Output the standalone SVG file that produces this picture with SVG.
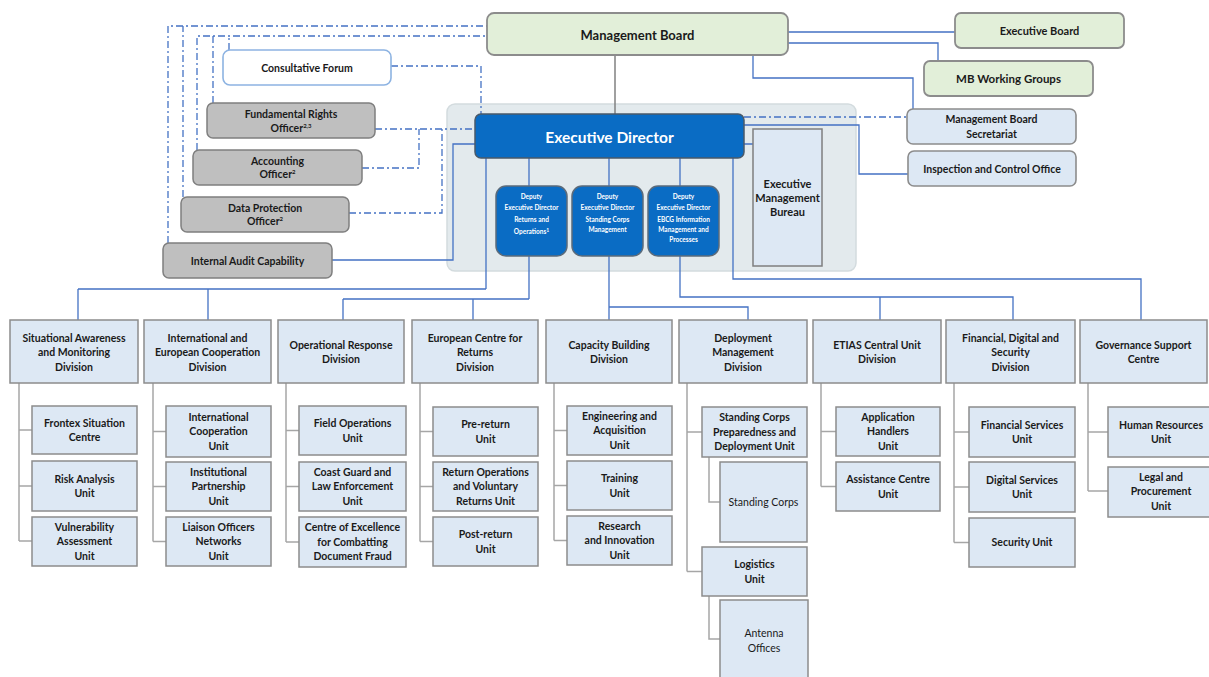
<svg xmlns="http://www.w3.org/2000/svg" width="1209" height="677" viewBox="0 0 1209 677">
<style>
.bl{stroke:#4472c4;stroke-width:1.3;fill:none}
.da{stroke:#4472c4;stroke-width:1.3;fill:none;stroke-dasharray:7 3 2 3}
.gr{stroke:#808080;stroke-width:1.5;fill:none}
.tr{stroke:#a6a6a6;stroke-width:1.5;fill:none}
.unit{fill:#dde8f4;stroke:#8c8c8c;stroke-width:1.5}
.green{fill:#e2efd9;stroke:#8c8c8c;stroke-width:1.8}
.grey{fill:#bfbfbf;stroke:#7f7f7f;stroke-width:1.5}
.lb{fill:#dde8f4;stroke:#8c8c8c;stroke-width:1.6}
.dep{fill:#0a6cc4;stroke:#5b6b7b;stroke-width:1.5}
.t{font-family:Lato,"Liberation Sans",sans-serif;font-weight:700;font-size:10.5px;fill:#1a1a1a;text-anchor:middle}
.w{font-family:Lato,"Liberation Sans",sans-serif;font-weight:700;font-size:6.5px;fill:#ffffff;text-anchor:middle}
.sup{font-size:6px}
</style>
<rect width="1209" height="677" fill="#ffffff"/>
<g id="container"><rect x="447" y="104" width="409" height="167" rx="8" fill="#e3eaed" stroke="#d3dbde" stroke-width="1.5"/></g>
<g id="connectors">
<path class="gr" d="M615 55V114"/>
<path class="bl" d="M788 32H955M788 43H938V61M753 55V78H913V109"/>
<path class="bl" d="M744 125H859V174H908M744 144H753"/>
<path class="da" d="M744 117H907"/>
<path class="bl" d="M332 260H453V144H475"/>
<path class="da" d="M168 243V26H487M183 197V26M197 150V36H487M213 103V36M229 50V36"/>
<path class="da" d="M391 66H481V114M375 129H475M362 168H419V129M349 213H442V129"/>
<path class="bl" d="M529 158V186M609 158V186M680 158V186"/>
<path class="bl" d="M486 158V289M78 289H486M78 289V320M208 289V320"/>
<path class="bl" d="M529 256V299M343 299H529M343 299V320M473 299V320"/>
<path class="bl" d="M609 256V320M609 307H748V320"/>
<path class="bl" d="M680 256V297H1013V320M880 297V320"/>
<path class="bl" d="M733 158V279H1141V320"/>
<path class="tr" d="M19 383V541M19 430H32M19 486H32M19 541H32"/>
<path class="tr" d="M153 383V541.5M153 431.5H166M153 486.5H166M153 541.5H166"/>
<path class="tr" d="M286 383V542M286 430.5H299M286 486.5H299M286 542H299"/>
<path class="tr" d="M420 383V541.5M420 431.5H433M420 486.5H433M420 541.5H433"/>
<path class="tr" d="M554 383V540.5M554 430.5H567M554 485.5H567M554 540.5H567"/>
<path class="tr" d="M687 383V571.5M687 432H702M687 571.5H702M709 457V502H720M709 596V639H720"/>
<path class="tr" d="M821 383V486.5M821 431.5H836M821 486.5H836"/>
<path class="tr" d="M954 383V542.5M954 432H969M954 487H969M954 542.5H969"/>
<path class="tr" d="M1088 383V491M1088 432H1108M1088 491H1108"/>
</g>
<g id="mb"><rect class="green" x="487" y="13" width="301" height="42" rx="7"/><text class="t" x="637.5" y="39.5" style="font-size:13px">Management Board</text></g>
<g id="eb"><rect class="green" x="955" y="13" width="169" height="35" rx="6"/><text class="t" x="1039.5" y="35" style="font-size:11px">Executive Board</text></g>
<g id="mbwg"><rect class="green" x="924" y="61" width="169" height="35" rx="6"/><text class="t" x="1008.5" y="83" style="font-size:11.5px">MB Working Groups</text></g>
<g id="mbs"><rect class="lb" x="907" y="109" width="169" height="35" rx="6"/><text class="t" x="991.5" y="122.5">Management Board</text><text class="t" x="991.5" y="137.5">Secretariat</text></g>
<g id="ico"><rect class="lb" x="908" y="151" width="168" height="35" rx="6"/><text class="t" x="992" y="172.5">Inspection and Control Office</text></g>
<g id="cf"><rect x="223" y="50" width="168" height="35" rx="7" fill="#ffffff" stroke="#8db3e2" stroke-width="1.6"/><text class="t" x="307" y="71.5">Consultative Forum</text></g>
<g id="fro"><rect class="grey" x="207" y="103" width="168" height="35" rx="6"/><text class="t" x="291" y="117.5">Fundamental Rights</text><text class="t" x="291" y="131.5">Officer<tspan class="sup" dy="-4">2,3</tspan></text></g>
<g id="ao"><rect class="grey" x="193" y="150" width="169" height="35" rx="6"/><text class="t" x="277.5" y="164.5">Accounting</text><text class="t" x="277.5" y="178">Officer<tspan class="sup" dy="-4">2</tspan></text></g>
<g id="dpo"><rect class="grey" x="181" y="197" width="168" height="35" rx="6"/><text class="t" x="265" y="211.5">Data Protection</text><text class="t" x="265" y="225">Officer<tspan class="sup" dy="-4">2</tspan></text></g>
<g id="iac"><rect class="grey" x="163" y="243" width="169" height="35" rx="6"/><text class="t" x="247.5" y="264.5">Internal Audit Capability</text></g>
<g id="ed"><rect x="475" y="114" width="269" height="44" rx="6" fill="#0a6cc4" stroke="#4a5a6a" stroke-width="1.5"/><text class="t" x="609.5" y="142.5" style="font-size:15.5px;fill:#ffffff">Executive Director</text></g>
<g id="dep1"><rect class="dep" x="496" y="186" width="71" height="70" rx="10"/><text class="w" x="531.5" y="199.3">Deputy</text><text class="w" x="531.5" y="210.3">Executive Director</text><text class="w" x="531.5" y="222.3">Returns and</text><text class="w" x="531.5" y="234.3">Operations<tspan style="font-size:5px" dy="-2.5">1</tspan></text></g>
<g id="dep2"><rect class="dep" x="572" y="186" width="71" height="70" rx="10"/><text class="w" x="607.5" y="199.3">Deputy</text><text class="w" x="607.5" y="210.3">Executive Director</text><text class="w" x="607.5" y="222.3">Standing Corps</text><text class="w" x="607.5" y="232.3">Management</text></g>
<g id="dep3"><rect class="dep" x="648" y="186" width="71" height="70" rx="10"/><text class="w" x="683.5" y="199.3">Deputy</text><text class="w" x="683.5" y="210.3">Executive Director</text><text class="w" x="683.5" y="222.3">EBCG Information</text><text class="w" x="683.5" y="232.3">Management and</text><text class="w" x="683.5" y="242.3">Processes</text></g>
<g id="emb"><rect x="753" y="129" width="69" height="137" fill="#dde8f4" stroke="#7f7f7f" stroke-width="1.5"/><text class="t" x="787.5" y="188" style="font-size:11px">Executive</text><text class="t" x="787.5" y="202" style="font-size:11px">Management</text><text class="t" x="787.5" y="216" style="font-size:11px">Bureau</text></g>
<g id="div1"><rect class="unit" x="10" y="320" width="128" height="63"/><text class="t" x="74" y="341.5">Situational Awareness</text><text class="t" x="74" y="356">and Monitoring</text><text class="t" x="74" y="370.5">Division</text></g>
<g id="div2"><rect class="unit" x="144" y="320" width="127" height="63"/><text class="t" x="207.5" y="341.5">International and</text><text class="t" x="207.5" y="356">European Cooperation</text><text class="t" x="207.5" y="370.5">Division</text></g>
<g id="div3"><rect class="unit" x="278" y="320" width="126" height="63"/><text class="t" x="341" y="348.5">Operational Response</text><text class="t" x="341" y="363">Division</text></g>
<g id="div4"><rect class="unit" x="412" y="320" width="126" height="63"/><text class="t" x="475" y="341.5">European Centre for</text><text class="t" x="475" y="356">Returns</text><text class="t" x="475" y="370.5">Division</text></g>
<g id="div5"><rect class="unit" x="546" y="320" width="126" height="63"/><text class="t" x="609" y="348.5">Capacity Building</text><text class="t" x="609" y="363">Division</text></g>
<g id="div6"><rect class="unit" x="679" y="320" width="128" height="63"/><text class="t" x="743" y="341.5">Deployment</text><text class="t" x="743" y="356">Management</text><text class="t" x="743" y="370.5">Division</text></g>
<g id="div7"><rect class="unit" x="813" y="320" width="128" height="63"/><text class="t" x="877" y="348.5">ETIAS Central Unit</text><text class="t" x="877" y="363">Division</text></g>
<g id="div8"><rect class="unit" x="946" y="320" width="129" height="63"/><text class="t" x="1010.5" y="341.5">Financial, Digital and</text><text class="t" x="1010.5" y="356">Security</text><text class="t" x="1010.5" y="370.5">Division</text></g>
<g id="div9"><rect class="unit" x="1080" y="320" width="127" height="63"/><text class="t" x="1143.5" y="348.5">Governance Support</text><text class="t" x="1143.5" y="363">Centre</text></g>
<g id="u1a"><rect class="unit" x="32" y="406" width="105" height="48"/><text class="t" x="84.5" y="426.5">Frontex Situation</text><text class="t" x="84.5" y="441">Centre</text></g>
<g id="u1b"><rect class="unit" x="32" y="461" width="105" height="50"/><text class="t" x="84.5" y="482.5">Risk Analysis</text><text class="t" x="84.5" y="497">Unit</text></g>
<g id="u1c"><rect class="unit" x="32" y="517" width="105" height="49"/><text class="t" x="84.5" y="530.7">Vulnerability</text><text class="t" x="84.5" y="545.2">Assessment</text><text class="t" x="84.5" y="559.7">Unit</text></g>
<g id="u2a"><rect class="unit" x="166" y="406" width="105" height="51"/><text class="t" x="218.5" y="420.7">International</text><text class="t" x="218.5" y="435.2">Cooperation</text><text class="t" x="218.5" y="449.7">Unit</text></g>
<g id="u2b"><rect class="unit" x="166" y="462" width="105" height="49"/><text class="t" x="218.5" y="475.7">Institutional</text><text class="t" x="218.5" y="490.2">Partnership</text><text class="t" x="218.5" y="504.7">Unit</text></g>
<g id="u2c"><rect class="unit" x="166" y="517" width="105" height="49"/><text class="t" x="218.5" y="530.7">Liaison Officers</text><text class="t" x="218.5" y="545.2">Networks</text><text class="t" x="218.5" y="559.7">Unit</text></g>
<g id="u3a"><rect class="unit" x="299" y="406" width="107" height="49"/><text class="t" x="352.5" y="427">Field Operations</text><text class="t" x="352.5" y="441.5">Unit</text></g>
<g id="u3b"><rect class="unit" x="299" y="462" width="107" height="49"/><text class="t" x="352.5" y="475.7">Coast Guard and</text><text class="t" x="352.5" y="490.2">Law Enforcement</text><text class="t" x="352.5" y="504.7">Unit</text></g>
<g id="u3c"><rect class="unit" x="299" y="517" width="107" height="50"/><text class="t" x="352.5" y="531.2">Centre of Excellence</text><text class="t" x="352.5" y="545.7">for Combatting</text><text class="t" x="352.5" y="560.2">Document Fraud</text></g>
<g id="u4a"><rect class="unit" x="433" y="407" width="105" height="49"/><text class="t" x="485.5" y="428">Pre-return</text><text class="t" x="485.5" y="442.5">Unit</text></g>
<g id="u4b"><rect class="unit" x="433" y="462" width="105" height="49"/><text class="t" x="485.5" y="475.7">Return Operations</text><text class="t" x="485.5" y="490.2">and Voluntary</text><text class="t" x="485.5" y="504.7">Returns Unit</text></g>
<g id="u4c"><rect class="unit" x="433" y="517" width="105" height="49"/><text class="t" x="485.5" y="538">Post-return</text><text class="t" x="485.5" y="552.5">Unit</text></g>
<g id="u5a"><rect class="unit" x="567" y="406" width="105" height="49"/><text class="t" x="619.5" y="419.7">Engineering and</text><text class="t" x="619.5" y="434.2">Acquisition</text><text class="t" x="619.5" y="448.7">Unit</text></g>
<g id="u5b"><rect class="unit" x="567" y="461" width="105" height="49"/><text class="t" x="619.5" y="482">Training</text><text class="t" x="619.5" y="496.5">Unit</text></g>
<g id="u5c"><rect class="unit" x="567" y="516" width="105" height="49"/><text class="t" x="619.5" y="529.7">Research</text><text class="t" x="619.5" y="544.2">and Innovation</text><text class="t" x="619.5" y="558.7">Unit</text></g>
<g id="u6a"><rect class="unit" x="702" y="407" width="105" height="50"/><text class="t" x="754.5" y="421.2">Standing Corps</text><text class="t" x="754.5" y="435.7">Preparedness and</text><text class="t" x="754.5" y="450.2">Deployment Unit</text></g>
<g id="u6b"><rect class="unit" x="720" y="462" width="87" height="80"/><text class="t" x="763.5" y="505.7" style="font-weight:400">Standing Corps</text></g>
<g id="u6c"><rect class="unit" x="702" y="547" width="105" height="49"/><text class="t" x="754.5" y="568">Logistics</text><text class="t" x="754.5" y="582.5">Unit</text></g>
<g id="u6d"><rect class="unit" x="720" y="600" width="88" height="85"/><text class="t" x="764" y="637" style="font-weight:400">Antenna</text><text class="t" x="764" y="651.5" style="font-weight:400">Offices</text></g>
<g id="u7a"><rect class="unit" x="836" y="407" width="104" height="49"/><text class="t" x="888" y="420.7">Application</text><text class="t" x="888" y="435.2">Handlers</text><text class="t" x="888" y="449.7">Unit</text></g>
<g id="u7b"><rect class="unit" x="836" y="462" width="104" height="49"/><text class="t" x="888" y="483">Assistance Centre</text><text class="t" x="888" y="497.5">Unit</text></g>
<g id="u8a"><rect class="unit" x="969" y="407" width="106" height="50"/><text class="t" x="1022" y="428.5">Financial Services</text><text class="t" x="1022" y="443">Unit</text></g>
<g id="u8b"><rect class="unit" x="969" y="462" width="106" height="50"/><text class="t" x="1022" y="483.5">Digital Services</text><text class="t" x="1022" y="498">Unit</text></g>
<g id="u8c"><rect class="unit" x="969" y="518" width="106" height="49"/><text class="t" x="1022" y="546.2">Security Unit</text></g>
<g id="u9a"><rect class="unit" x="1108" y="407" width="106" height="50"/><text class="t" x="1161" y="428.5">Human Resources</text><text class="t" x="1161" y="443">Unit</text></g>
<g id="u9b"><rect class="unit" x="1108" y="467" width="106" height="50"/><text class="t" x="1161" y="480.7">Legal and</text><text class="t" x="1161" y="495.2">Procurement</text><text class="t" x="1161" y="509.7">Unit</text></g>
</svg>
